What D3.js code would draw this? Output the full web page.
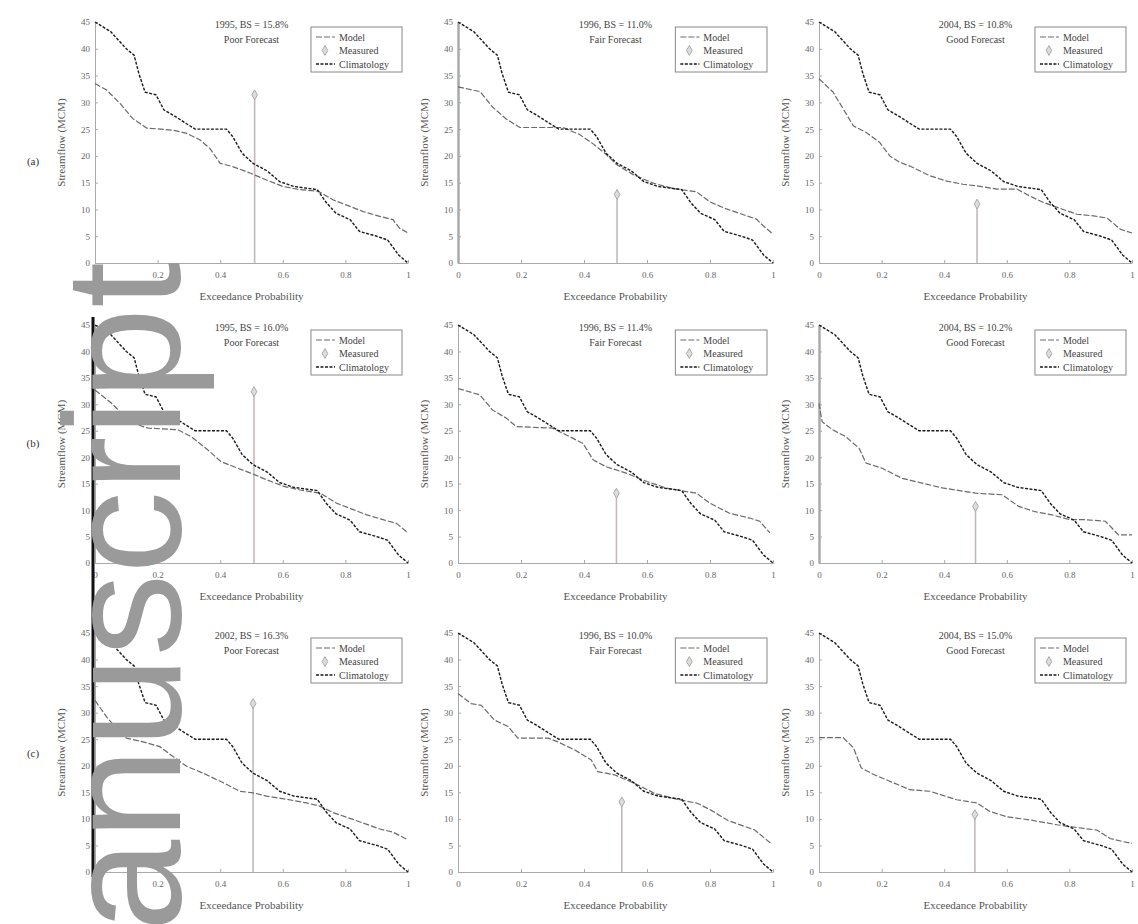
<!DOCTYPE html>
<html>
<head>
<meta charset="utf-8" />
<title>Exceedance Probability</title>
<script src="https://cdn.jsdelivr.net/npm/d3@7"></script>
<style>
body { margin: 0; background: #fff; }
svg { display: block; background: #fff; }
text { font-family: "Liberation Serif", "Times New Roman", serif; }
.axis path, .axis line { stroke: #aaa; }
.axis text { fill: #666; font-size: 9px; font-family: "Liberation Serif", serif; }
</style>
</head>
<body>
<div id="chart"></div>
<script>
var width = 1138, height = 924;

/* values: [exceedance probability, streamflow] */
var xTicks = [0, 0.2, 0.4, 0.6, 0.8, 1];
var yTicks = [0, 5, 10, 15, 20, 25, 30, 35, 40, 45];
var rowLabels = ["(a)", "(b)", "(c)"];
var forecastLabels = ["Poor Forecast", "Fair Forecast", "Good Forecast"];
var scoreLabels = [
    "1995, BS = 15.8%", "1996, BS = 11.0%", "2004, BS = 10.8%",
    "1995, BS = 16.0%", "1996, BS = 11.4%", "2004, BS = 10.2%",
    "2002, BS = 16.3%", "1996, BS = 10.0%", "2004, BS = 15.0%"
];
var legendLabels = ["Model", "Measured", "Climatology"];

var climatology = [[0,45],[0.05,43.2],[0.10,40.0],[0.125,38.8],[0.14,35.4],[0.16,31.9],[0.195,31.4],
    [0.22,28.6],[0.25,27.6],[0.29,26.1],[0.32,25.0],[0.42,25.0],[0.44,23.6],[0.47,20.5],[0.505,18.6],
    [0.55,17.2],[0.59,15.2],[0.635,14.3],[0.71,13.7],[0.74,11.2],[0.77,9.3],[0.815,8.1],[0.845,5.9],
    [0.9,5.0],[0.935,4.3],[0.97,1.5],[1,0]];

var modelA1 = [[0,33.5],[0.037,32.3],[0.08,29.8],[0.12,27.0],[0.165,25.2],[0.25,24.8],[0.293,24.2],
    [0.335,23.0],[0.367,21.4],[0.4,18.6],[0.44,18.0],[0.495,16.8],[0.548,15.5],[0.6,14.3],[0.654,13.7],
    [0.713,13.4],[0.76,11.8],[0.8,10.9],[0.857,9.6],[0.91,8.7],[0.952,8.1],[0.973,6.5],[1,5.6]];
var modelA2 = [[0,32.9],[0.07,32.0],[0.11,29.1],[0.153,26.9],[0.196,25.3],[0.333,25.3],[0.386,24.0],
    [0.43,22.2],[0.47,20.3],[0.503,18.4],[0.556,16.5],[0.62,14.9],[0.683,13.9],[0.757,13.3],[0.8,11.4],
    [0.852,10.1],[0.947,8.2],[0.968,7.0],[1,5.4]];
var modelA3 = [[0,34.4],[0.045,31.9],[0.077,28.8],[0.11,25.6],[0.15,24.4],[0.194,22.5],[0.226,20.0],
    [0.258,18.8],[0.29,18.1],[0.354,16.3],[0.408,15.3],[0.46,14.7],[0.504,14.4],[0.568,13.8],[0.632,13.8],
    [0.674,12.5],[0.717,11.3],[0.78,10.0],[0.824,9.1],[0.877,8.8],[0.92,8.4],[0.963,6.3],[1,5.6]];
var modelB1 = [[0,32.7],[0.053,30.2],[0.095,27.7],[0.138,26.1],[0.17,25.5],[0.265,25.2],[0.307,23.9],
    [0.36,21.4],[0.402,19.2],[0.444,18.2],[0.497,17.0],[0.55,15.7],[0.603,14.5],[0.656,13.8],[0.72,13.2],
    [0.772,11.3],[0.825,10.1],[0.868,9.1],[0.92,8.2],[0.963,7.5],[1,5.7]];
var modelB2 = [[0,33.0],[0.069,31.8],[0.11,28.9],[0.153,27.4],[0.185,25.8],[0.30,25.5],[0.354,23.9],
    [0.397,22.6],[0.429,19.5],[0.47,18.2],[0.534,17.0],[0.6,15.4],[0.66,14.2],[0.725,13.5],[0.757,13.2],
    [0.8,11.3],[0.862,9.4],[0.926,8.5],[0.958,7.9],[0.99,5.7]];
var modelB3 = [[0,30.2],[0.01,26.7],[0.043,25.2],[0.085,23.9],[0.128,21.7],[0.15,18.9],[0.202,17.9],
    [0.266,16.0],[0.33,15.1],[0.394,14.2],[0.5,13.2],[0.585,12.9],[0.638,10.7],[0.69,9.7],[0.745,9.1],
    [0.8,8.2],[0.85,8.2],[0.915,7.9],[0.957,5.3],[1,5.3]];
var modelC1 = [[0,32.3],[0.037,29.2],[0.069,27.0],[0.1,25.2],[0.154,24.5],[0.207,23.6],[0.25,21.7],
    [0.293,19.9],[0.346,18.6],[0.41,16.8],[0.463,15.2],[0.505,14.9],[0.548,14.3],[0.612,13.7],[0.676,13.0],
    [0.718,12.4],[0.76,11.2],[0.824,9.9],[0.91,8.1],[0.952,7.5],[0.995,6.2]];
var modelC2 = [[0,33.6],[0.042,31.7],[0.074,31.4],[0.116,28.6],[0.159,27.4],[0.19,25.2],[0.286,25.2],
    [0.317,24.5],[0.37,23.0],[0.423,21.1],[0.444,18.9],[0.497,18.3],[0.56,16.7],[0.624,14.8],[0.688,13.8],
    [0.762,12.9],[0.804,11.6],[0.857,9.7],[0.942,7.9],[0.995,5.3]];
var modelC3 = [[0,25.3],[0.077,25.3],[0.11,23.4],[0.135,19.6],[0.173,18.4],[0.226,17.1],[0.29,15.5],
    [0.354,15.2],[0.44,13.6],[0.504,13.0],[0.546,11.4],[0.6,10.4],[0.674,9.8],[0.76,8.9],[0.845,8.2],
    [0.888,7.9],[0.93,6.3],[0.973,5.7],[1,5.4]];

var measuredP = [0.51, 0.505, 0.505, 0.508, 0.503, 0.50, 0.505, 0.52, 0.498];
var measuredQ = [31.4, 12.8, 11.0, 32.4, 13.2, 10.7, 31.7, 13.2, 10.8];

var models = [modelA1, modelA2, modelA3, modelB1, modelB2, modelB3, modelC1, modelC2, modelC3];

/* layout */
var colLeft = [95, 458, 819], colRight = [408, 773, 1132];
var rowTop = [22, 325, 633], rowBottom = [263, 563, 872];
var rowLabelY = [165, 447, 757];

var svg = d3.select("#chart").append("svg")
    .attr("width", width).attr("height", height);

models.forEach(function(model, i) {
    var r = Math.floor(i / 3), c = i % 3;
    var x = d3.scaleLinear().domain([0, 1]).range([colLeft[c], colRight[c]]);
    var y = d3.scaleLinear().domain([0, 45]).range([rowBottom[r], rowTop[r]]);
    var g = svg.append("g");

    g.append("g").attr("class", "axis")
        .attr("transform", "translate(0," + rowBottom[r] + ")")
        .call(d3.axisBottom(x).tickValues(xTicks)
            .tickFormat(function(d) { return (d === 0 || d === 1) ? d : d.toFixed(1); })
            .tickSizeInner(-3).tickSizeOuter(0).tickPadding(9));
    var ya = g.append("g").attr("class", "axis")
        .attr("transform", "translate(" + colLeft[c] + ",0)")
        .call(d3.axisLeft(y).tickValues(yTicks).tickSizeInner(-3).tickSizeOuter(0).tickPadding(5));
    // a few left axes come out dark in the scan
    if (i === 1 || i === 5) ya.select(".domain").attr("stroke", "#222").attr("stroke-width", 2.5);

    g.append("text")
        .attr("transform", "translate(" + (colLeft[c] - 30) + "," + ((rowTop[r] + rowBottom[r]) / 2) + ") rotate(-90)")
        .attr("text-anchor", "middle").attr("font-size", 11).attr("fill", "#555")
        .text("Streamflow (MCM)");
    g.append("text")
        .attr("x", (colLeft[c] + colRight[c]) / 2).attr("y", rowBottom[r] + 37)
        .attr("text-anchor", "middle").attr("font-size", 11).attr("fill", "#555")
        .text("Exceedance Probability");

    var line = d3.line().x(function(d) { return x(d[0]); }).y(function(d) { return y(d[1]); });

    // measured stem
    g.append("line")
        .attr("x1", x(measuredP[i])).attr("x2", x(measuredP[i]))
        .attr("y1", y(0)).attr("y2", y(measuredQ[i]))
        .attr("stroke", "#c4b8b8").attr("stroke-width", 1.6);
    g.append("path")
        .attr("d", d3.symbol().type(d3.symbolDiamond).size(28)())
        .attr("transform", "translate(" + x(measuredP[i]) + "," + y(measuredQ[i]) + ")")
        .attr("fill", "#ddd").attr("stroke", "#aaa");

    g.append("path").datum(model)
        .attr("d", line).attr("fill", "none")
        .attr("stroke", "#6a6a6a").attr("stroke-width", 1.2).attr("stroke-dasharray", "6,2");
    g.append("path").datum(climatology)
        .attr("d", line).attr("fill", "none")
        .attr("stroke", "#1a1a1a").attr("stroke-width", 1.4).attr("stroke-dasharray", "3,1.5");

    // annotation
    var ax = x(0.5);
    g.append("text").attr("x", ax).attr("y", rowTop[r] + 6)
        .attr("text-anchor", "middle").attr("font-size", 10).attr("fill", "#444")
        .text(scoreLabels[i]);
    g.append("text").attr("x", ax).attr("y", rowTop[r] + 21)
        .attr("text-anchor", "middle").attr("font-size", 10).attr("fill", "#444")
        .text(forecastLabels[c]);

    // legend
    var lx = x(0.69), ly = rowTop[r] + 5, lw = colRight[c] - 6 - lx;
    var lg = g.append("g").attr("transform", "translate(" + lx + "," + ly + ")");
    lg.append("rect").attr("width", lw).attr("height", 45)
        .attr("fill", "#fff").attr("stroke", "#888").attr("stroke-width", 1);
    legendLabels.forEach(function(name, k) {
        var yy = 10 + k * 13.5;
        if (k === 0) {
            lg.append("line").attr("x1", 5).attr("x2", 24).attr("y1", yy).attr("y2", yy)
                .attr("stroke", "#6a6a6a").attr("stroke-width", 1.2).attr("stroke-dasharray", "6,2");
        } else if (k === 1) {
            lg.append("path").attr("d", d3.symbol().type(d3.symbolDiamond).size(28)())
                .attr("transform", "translate(14," + yy + ")")
                .attr("fill", "#ddd").attr("stroke", "#aaa");
        } else {
            lg.append("line").attr("x1", 5).attr("x2", 24).attr("y1", yy).attr("y2", yy)
                .attr("stroke", "#1a1a1a").attr("stroke-width", 1.4).attr("stroke-dasharray", "3,1.5");
        }
        lg.append("text").attr("x", 28).attr("y", yy + 3.5)
            .attr("font-size", 10).attr("fill", "#444").text(name);
    });
});

rowLabels.forEach(function(t, r) {
    svg.append("text").attr("x", 33).attr("y", rowLabelY[r])
        .attr("text-anchor", "middle").attr("font-size", 11).attr("fill", "#333")
        .text(t);
});

/* watermark of the accepted-manuscript scan */
var wm = svg.append("g");
wm.append("line").attr("x1", 93).attr("x2", 93)
    .attr("y1", rowTop[1] - 8).attr("y2", rowBottom[2] + 5)
    .attr("stroke", "#111").attr("stroke-width", 3);
wm.append("text")
    .attr("transform", "translate(180,262) rotate(-90)")
    .attr("text-anchor", "end")
    .style("font-family", "'Liberation Sans', Arial, sans-serif")
    .attr("font-size", 165).attr("fill", "#9a9a9a")
    .text("manuscript");
</script>
</body>
</html>
